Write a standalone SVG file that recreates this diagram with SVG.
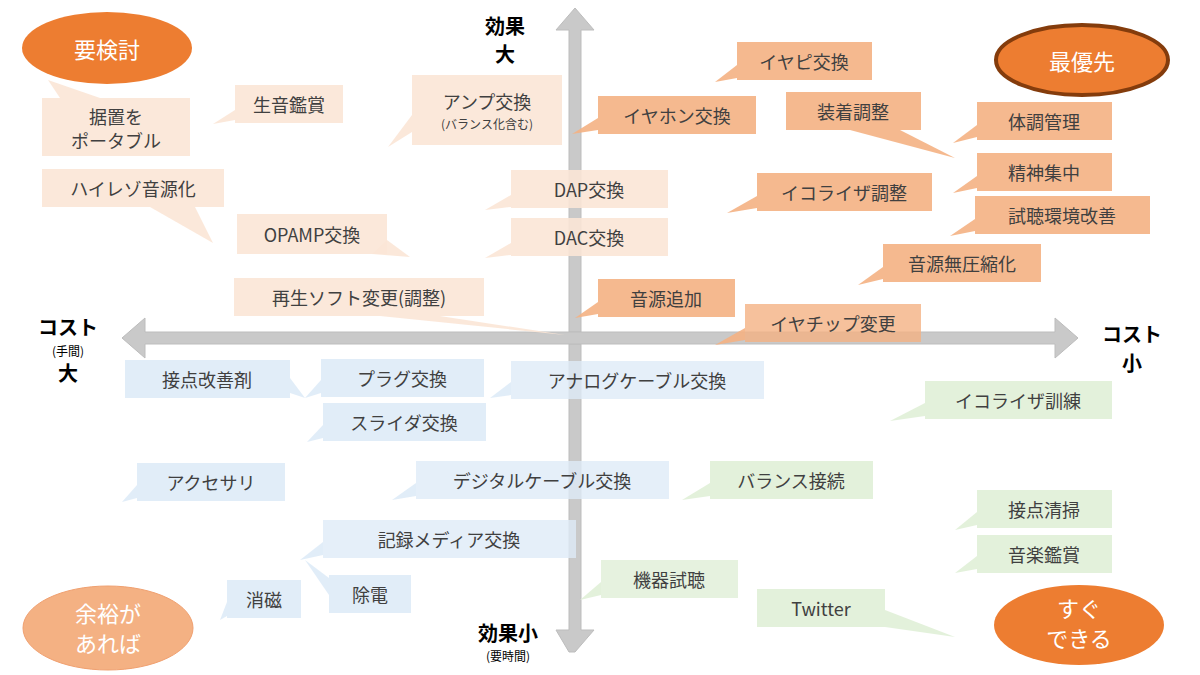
<svg xmlns="http://www.w3.org/2000/svg" width="1200" height="675" viewBox="0 0 1200 675">
<style>
text{font-family:"Noto Sans CJK JP","Noto Sans",sans-serif;font-size:18px;fill:#404040;text-anchor:middle;dominant-baseline:central}
.lp{fill:#FBE5D6;opacity:.9}.pk{fill:#F4B183;opacity:.9}.bl{fill:#DEEBF7;opacity:.9}.gr{fill:#E2F0D9;opacity:.95}
.ax{fill:#C9C9C9;stroke:#BDBDBD}
.lab{font-weight:bold;fill:#000;font-size:20px}
.sm{font-size:12px;fill:#000}
.el{fill:#fff;font-size:22px}
</style>
<rect width="1200" height="675" fill="#fff"/>
<g id="connectors">
<polygon class="ax" points="569,652 556,630 569,630 569,344 581,344 581,630 594,630 575,652 575,652" transform="translate(0,0)"/>
<polygon class="ax" points="575,8 594,30 581,30 581,332 569,332 569,30 556,30"/>
<polygon class="ax" points="122,338 145,318 145,332 1055,332 1055,318 1078,338 1055,358 1055,344 145,344 145,358"/>
</g>
<g id="axis-labels">
<text class="lab" x="505" y="25">効果</text><text class="lab" x="505" y="53">大</text>
<text class="lab" x="508" y="632">効果小</text><text class="sm" x="508" y="655">(要時間)</text>
<text class="lab" x="68" y="326">コスト</text><text class="sm" x="68" y="350">(手間)</text><text class="lab" x="68" y="372">大</text>
<text class="lab" x="1132" y="333">コスト</text><text class="lab" x="1132" y="362">小</text>
</g>
<g id="e1"><ellipse cx="107" cy="48" rx="85" ry="36" fill="#ED7D31"/><text class="el" x="107" y="48">要検討</text></g>
<g id="e2"><ellipse cx="1082" cy="60" rx="86" ry="35" fill="#ED7D31" stroke="#843C0C" stroke-width="4"/><text class="el" x="1082" y="60">最優先</text></g>
<g id="e3"><ellipse cx="1079" cy="625" rx="85" ry="40" fill="#ED7D31"/><text class="el" x="1079" y="607">すぐ</text><text class="el" x="1079" y="637">できる</text></g>
<g id="e4"><ellipse cx="108" cy="628" rx="85" ry="42" fill="#F4B183" stroke="#F0A070"/><text class="el" x="108" y="612">余裕が</text><text class="el" x="108" y="642">あれば</text></g>

<g id="n1"><polygon class="lp" points="60,98 48,80 100,98"/><rect class="lp" x="42" y="98" width="148" height="58"/><text x="116" y="116">据置を</text><text x="116" y="140">ポータブル</text></g>
<g id="n2"><polygon class="lp" points="235,110 213,124 235,120"/><rect class="lp" x="235" y="85" width="108" height="38"/><text x="289" y="104">生音鑑賞</text></g>
<g id="n3"><polygon class="lp" points="412,115 388,147 412,132"/><rect class="lp" x="412" y="75" width="150" height="70"/><text x="487" y="101">アンプ交換</text><text x="487" y="123" style="font-size:12px">(バランス化含む)</text></g>
<g id="n4"><polygon class="lp" points="150,207 213,243 195,207"/><rect class="lp" x="42" y="169" width="182" height="38"/><text x="133" y="188">ハイレゾ音源化</text></g>
<g id="n5"><polygon class="lp" points="372,254 410,257 387,240"/><rect class="lp" x="237" y="214" width="150" height="40"/><text x="312" y="234">OPAMP交換</text></g>
<g id="n6"><polygon class="lp" points="511,195 485,210 511,207"/><rect class="lp" x="511" y="170" width="157" height="38"/><text x="589" y="189">DAP交換</text></g>
<g id="n7"><polygon class="lp" points="511,243 485,258 511,255"/><rect class="lp" x="511" y="218" width="157" height="38"/><text x="589" y="237">DAC交換</text></g>
<g id="n8"><polygon class="lp" points="380,316 565,335 440,316"/><rect class="lp" x="234" y="278" width="250" height="38"/><text x="359" y="297">再生ソフト変更(調整)</text></g>

<g id="n9"><polygon class="pk" points="737,65 715,82 737,78"/><rect class="pk" x="737" y="42" width="135" height="38"/><text x="804" y="61">イヤピ交換</text></g>
<g id="n10"><polygon class="pk" points="598,118 572,134 598,130"/><rect class="pk" x="598" y="96" width="158" height="38"/><text x="677" y="115">イヤホン交換</text></g>
<g id="n11"><polygon class="pk" points="850,130 955,158 900,130"/><rect class="pk" x="786" y="92" width="135" height="38"/><text x="853" y="111">装着調整</text></g>
<g id="n12"><polygon class="pk" points="977,125 953,143 977,137"/><rect class="pk" x="977" y="102" width="135" height="38"/><text x="1044" y="121">体調管理</text></g>
<g id="n13"><polygon class="pk" points="977,176 953,193 977,188"/><rect class="pk" x="977" y="153" width="135" height="38"/><text x="1044" y="172">精神集中</text></g>
<g id="n14"><polygon class="pk" points="757,196 727,213 757,208"/><rect class="pk" x="757" y="173" width="175" height="38"/><text x="844" y="192">イコライザ調整</text></g>
<g id="n15"><polygon class="pk" points="975,219 950,236 975,231"/><rect class="pk" x="975" y="196" width="175" height="38"/><text x="1062" y="215">試聴環境改善</text></g>
<g id="n16"><polygon class="pk" points="883,267 858,285 883,279"/><rect class="pk" x="883" y="244" width="158" height="38"/><text x="962" y="263">音源無圧縮化</text></g>
<g id="n17"><polygon class="pk" points="598,302 575,318 598,314"/><rect class="pk" x="598" y="279" width="137" height="38"/><text x="666" y="298">音源追加</text></g>
<g id="n18"><polygon class="pk" points="745,328 715,345 745,340"/><rect class="pk" x="745" y="304" width="176" height="38" style="opacity:.8"/><text x="833" y="323">イヤチップ変更</text></g>

<g id="n19"><polygon class="bl" points="290,378 305,398 290,393"/><rect class="bl" x="125" y="360" width="165" height="38"/><text x="207" y="379">接点改善剤</text></g>
<g id="n20"><polygon class="bl" points="321,380 305,398 321,393"/><rect class="bl" x="321" y="359" width="163" height="38"/><text x="402" y="378">プラグ交換</text></g>
<g id="n21"><polygon class="bl" points="511,382 490,398 511,395"/><rect class="bl" x="511" y="361" width="253" height="38" style="opacity:.8"/><text x="637" y="380">アナログケーブル交換</text></g>
<g id="n22"><polygon class="bl" points="323,425 307,442 323,438"/><rect class="bl" x="323" y="403" width="163" height="38"/><text x="404" y="422">スライダ交換</text></g>
<g id="n23"><polygon class="bl" points="137,485 122,502 137,498"/><rect class="bl" x="137" y="463" width="148" height="38"/><text x="211" y="482">アクセサリ</text></g>
<g id="n24"><polygon class="bl" points="416,483 392,500 416,496"/><rect class="bl" x="416" y="461" width="253" height="38" style="opacity:.8"/><text x="542" y="480">デジタルケーブル交換</text></g>
<g id="n25"><polygon class="bl" points="323,542 300,560 323,555"/><rect class="bl" x="323" y="520" width="253" height="38" style="opacity:.8"/><text x="449" y="539">記録メディア交換</text></g>
<g id="n26"><polygon class="bl" points="227,602 220,620 227,616"/><rect class="bl" x="227" y="580" width="74" height="38"/><text x="264" y="599">消磁</text></g>
<g id="n27"><polygon class="bl" points="329,578 305,560 329,595"/><rect class="bl" x="329" y="575" width="82" height="38"/><text x="370" y="594">除電</text></g>

<g id="n28"><polygon class="gr" points="925,403 890,421 925,416"/><rect class="gr" x="925" y="381" width="187" height="38"/><text x="1018" y="400">イコライザ訓練</text></g>
<g id="n29"><polygon class="gr" points="710,483 682,500 710,496"/><rect class="gr" x="710" y="461" width="163" height="38"/><text x="791" y="480">バランス接続</text></g>
<g id="n30"><polygon class="gr" points="977,512 955,530 977,525"/><rect class="gr" x="977" y="490" width="135" height="38"/><text x="1044" y="509">接点清掃</text></g>
<g id="n31"><polygon class="gr" points="977,556 955,573 977,569"/><rect class="gr" x="977" y="535" width="135" height="38"/><text x="1044" y="554">音楽鑑賞</text></g>
<g id="n32"><polygon class="gr" points="601,582 580,600 601,595"/><rect class="gr" x="601" y="560" width="137" height="38" style="opacity:.85"/><text x="669" y="579">機器試聴</text></g>
<g id="n33"><polygon class="gr" points="885,610 955,637 885,627"/><rect class="gr" x="757" y="589" width="128" height="38"/><text x="821" y="608">Twitter</text></g>
</svg>
